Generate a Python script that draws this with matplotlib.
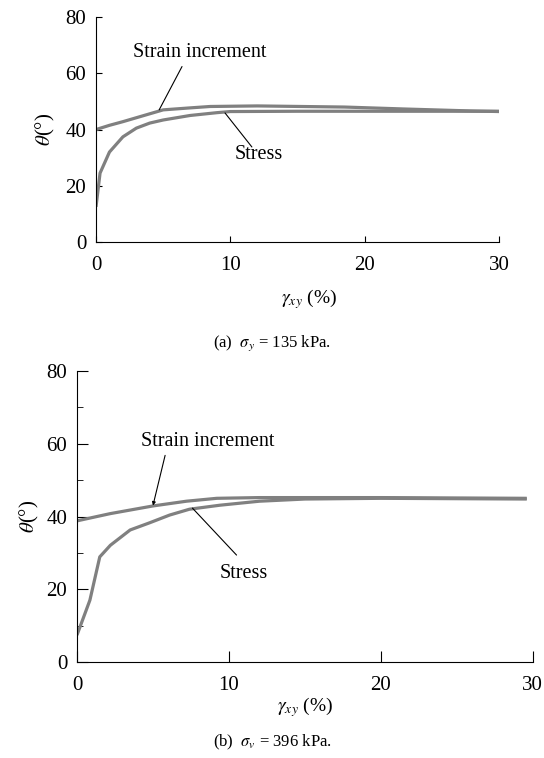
import matplotlib.pyplot as plt

plt.rcParams['font.family'] = ['Liberation Serif', 'DejaVu Serif']
plt.rcParams['mathtext.fontset'] = 'stix'

# (a) sigma_y = 135 kPa
gam_a_strain = [0, 1, 2, 3, 4, 5, 7, 8.5, 12, 18.5, 23, 28, 30]
th_a_strain = [40, 41.5, 42.8, 44.2, 45.6, 47, 47.7, 48.2, 48.4, 48.0, 47.3, 46.6, 46.4]
gam_a_stress = [0, 0.3, 1, 2, 3, 4, 5, 7, 9, 10, 15, 20, 25, 30]
th_a_stress = [12.5, 24.5, 32, 37.4, 40.5, 42.3, 43.4, 45, 46, 46.4, 46.5, 46.5, 46.5, 46.5]

# (b) sigma_v = 396 kPa
gam_b_strain = [0, 2.2, 5, 7.2, 9.2, 12, 20, 29.6]
th_b_strain = [38.8, 40.8, 42.9, 44.2, 45.0, 45.2, 45.2, 45.0]
gam_b_stress = [0, 0.85, 1.5, 2.2, 3.5, 4.8, 6.1, 7.4, 9.4, 12, 15, 20, 29.6]
th_b_stress = [7.4, 17, 28.9, 32.1, 36.3, 38.3, 40.4, 42, 43.1, 44.2, 44.8, 45, 44.8]

line_kw = dict(color='#808080', lw=2.3, solid_capstyle='butt')
lead_kw = dict(arrowstyle='-', color='black', lw=0.8, shrinkA=0, shrinkB=0)
fs = 15
fs_note = 14.5

fig = plt.figure(figsize=(5.44, 7.58), dpi=100)
ax1 = fig.add_axes([0.1765, 0.6807, 0.741, 0.2968])
ax2 = fig.add_axes([0.1415, 0.1266, 0.838, 0.384])

for ax in (ax1, ax2):
    ax.spines['top'].set_visible(False)
    ax.spines['right'].set_visible(False)
    ax.set_xlim(0, 30)
    ax.set_ylim(0, 80)
    ax.set_xticks([0, 10, 20, 30])
    ax.set_yticks([0, 20, 40, 60, 80])
    ax.tick_params(direction='in', labelsize=fs)

ax1.tick_params(length=4)
ax1.tick_params(axis='x', pad=10)
ax1.tick_params(axis='y', pad=7)
ax2.tick_params(length=8)
ax2.tick_params(axis='x', pad=10)
ax2.tick_params(axis='y', pad=7)
ax2.set_yticks([10, 30, 50, 70], minor=True)
ax2.tick_params(which='minor', direction='in', length=4)

# panel (a)
ax1.plot(gam_a_strain, th_a_strain, **line_kw)
ax1.plot(gam_a_stress, th_a_stress, **line_kw)
ax1.text(7.7, 67.3, 'Strain increment', fontsize=fs_note, ha='center', va='center')
ax1.annotate('', xy=(4.7, 47.0), xytext=(6.4, 62.4), arrowprops=lead_kw)
ax1.text(12.1, 31, 'Stress', fontsize=fs_note, ha='center', va='center')
ax1.annotate('', xy=(9.6, 45.9), xytext=(11.6, 33.8), arrowprops=lead_kw)
ax1.set_ylabel(r'$\theta$(°)', fontsize=fs, labelpad=6)
ax1.set_xlabel(r'$\gamma_{xy}$ (%)', fontsize=fs - 1)
ax1.xaxis.set_label_coords(0.53, -0.2)
fig.text(0.5, 1 - 343 / 758, r'(a)  $\sigma_y$ = 135 kPa.', fontsize=12,
         ha='center', va='center')

# panel (b)
ax2.plot(gam_b_strain, th_b_strain, **line_kw)
ax2.plot(gam_b_stress, th_b_stress, **line_kw)
ax2.text(8.6, 60.7, 'Strain increment', fontsize=fs_note, ha='center', va='center')
ax2.annotate('', xy=(5.0, 43.0), xytext=(5.8, 56.8),
             arrowprops=dict(lead_kw, arrowstyle='-|>', mutation_scale=5))
ax2.text(11.0, 24.2, 'Stress', fontsize=fs_note, ha='center', va='center')
ax2.annotate('', xy=(7.6, 42.3), xytext=(10.5, 29.4), arrowprops=lead_kw)
ax2.set_ylabel(r'$\theta$(°)', fontsize=fs, labelpad=4)
ax2.set_xlabel(r'$\gamma_{xy}$ (%)', fontsize=fs - 1)
ax2.xaxis.set_label_coords(0.5, -0.115)
fig.text(0.5, 1 - 742 / 758, r'(b)  $\sigma_v$ = 396 kPa.', fontsize=12,
         ha='center', va='center')

fig.savefig('out.png', dpi=100)
